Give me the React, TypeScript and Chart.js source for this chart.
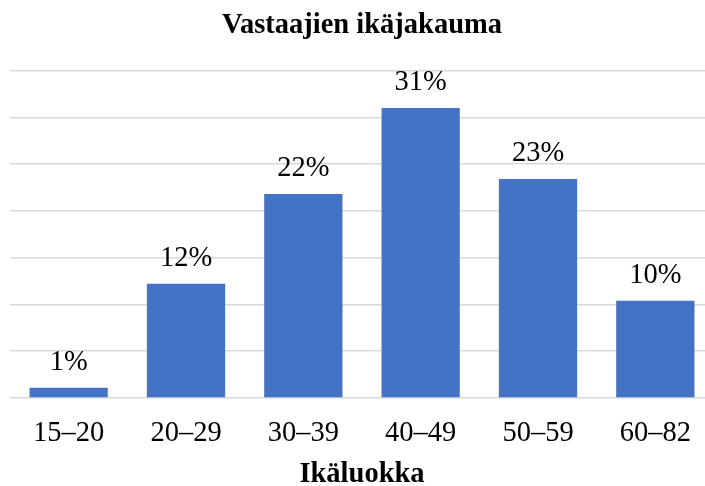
import React, { useEffect, useRef } from "react";
import { Chart, registerables } from "chart.js";

Chart.register(...registerables);

const categories = ["15–20", "20–29", "30–39", "40–49", "50–59", "60–82"];
const shares = [1.1, 12.2, 21.8, 31.0, 23.4, 10.4];
const chartTitle = "Vastaajien ikäjakauma";
const xTitle = "Ikäluokka";
const yMax = 35;
const yStep = 5;

const FONT = "'Liberation Serif', 'Times New Roman', serif";

const labelPlugin = {
  id: "barLabels",
  afterDatasetsDraw(chart: any) {
    const ctx = chart.ctx;
    const meta = chart.getDatasetMeta(0);
    ctx.save();
    ctx.font = `28.5px ${FONT}`;
    ctx.fillStyle = "#000";
    ctx.textAlign = "center";
    ctx.textBaseline = "alphabetic";
    meta.data.forEach((bar: any, i: number) => {
      const v = chart.data.datasets[0].data[i] as number;
      ctx.fillText(Math.round(v) + "%", bar.x, bar.y - 18);
    });
    ctx.restore();
  },
};

export default function App() {
  const ref = useRef<HTMLCanvasElement>(null);
  useEffect(() => {
    document.body.style.margin = "0";
    document.body.style.overflow = "hidden";
    const chart = new Chart(ref.current!, {
      type: "bar",
      data: {
        labels: categories,
        datasets: [
          {
            data: shares,
            backgroundColor: "#4472C4",
            barPercentage: 1,
            categoryPercentage: 0.667,
          },
        ],
      },
      options: {
        animation: false,
        responsive: false,
        layout: { padding: { left: 10, right: 10, top: 0, bottom: 0 } },
        plugins: {
          legend: { display: false },
          tooltip: { enabled: false },
          title: {
            display: true,
            text: chartTitle,
            color: "#000",
            font: { family: FONT, size: 28.5, weight: "bold", lineHeight: 1 },
            padding: { top: 11, bottom: 31 },
          },
        },
        scales: {
          x: {
            grid: { display: false },
            border: { display: false },
            ticks: {
              color: "#000",
              font: { family: FONT, size: 28.5, lineHeight: 1 },
              padding: 13,
            },
            title: {
              display: true,
              text: xTitle,
              color: "#000",
              font: { family: FONT, size: 28.5, weight: "bold", lineHeight: 1 },
              padding: { top: 0, bottom: 0 },
            },
          },
          y: {
            min: 0,
            max: yMax,
            ticks: { display: false, stepSize: yStep },
            grid: { color: "#d9d9d9", lineWidth: 1.5, drawTicks: false },
            border: { display: false },
          },
        },
      },
      plugins: [labelPlugin],
    });
    return () => chart.destroy();
  }, []);
  return <canvas ref={ref} width={724} height={489} style={{ display: "block" }} />;
}
